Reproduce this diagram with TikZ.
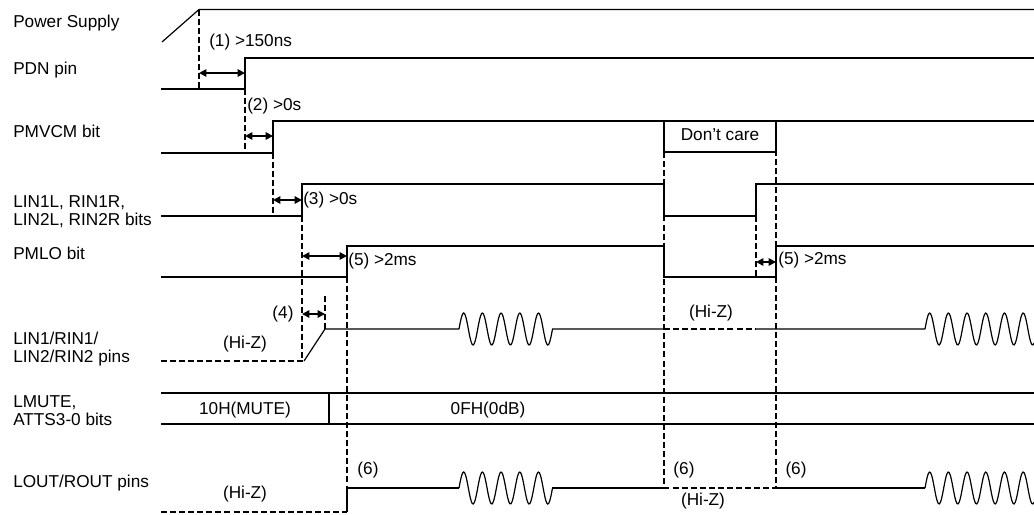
\documentclass[tikz,border=0pt]{standalone}
\usepackage{fontspec}
\setmainfont{Liberation Sans}
\usetikzlibrary{arrows.meta}
\tikzset{
  sig/.style={line width=0.9pt},
  hiz/.style={line width=1.1pt,dash pattern=on 4.5pt off 2.3pt},
  gapar/.style={line width=1.3pt,{Triangle[length=5.5pt,width=5.5pt]}-{Triangle[length=5.5pt,width=5.5pt]}},
  lbl/.style={anchor=base west,inner sep=0pt,align=left},
  ann/.style={anchor=west,inner sep=0pt},
}

\begin{document}
\begin{tikzpicture}[x=0.75pt,y=-0.75pt,font=\fontsize{12.9}{13.5}\selectfont]
  \useasboundingbox (0,0) rectangle (1034,514);
  \node[lbl] (ps) at (13,27) {Power Supply};
  \node[lbl] (pdn) at (13,74) {PDN pin};
  \node[lbl] (pmvcm) at (13,137) {PMVCM bit};
  \node[lbl] (linbits) at (13,225) {LIN1L, RIN1R,\\LIN2L, RIN2R bits};
  \node[lbl] (pmlo) at (13,259) {PMLO bit};
  \node[lbl] (linpins) at (13,362) {LIN1/RIN1/\\LIN2/RIN2 pins};
  \node[lbl] (lmute) at (13,425) {LMUTE,\\ATTS3-0 bits};
  \node[lbl] (lout) at (13,487) {LOUT/ROUT pins};

  \draw[sig] (162,42) -- (199,9.5) -- (1034,9.5);
  \draw[sig] (161,89) -| (245,58) -- (1034,58);
  \draw[sig] (161,153) -| (273,121) -- (1034,121);
  \draw[sig] (664,121) rectangle (776,152);
  \draw[sig] (161,216) -| (302,184) -| (664,216) -| (756,184) -- (1034,184);
  \draw[sig] (161,277) -| (347,246) -| (664,277) -| (776,246) -- (1034,246);
  \draw[sig] (304,361) -- (325,329) -- (459,329) (552,329) -- (664,329) (756,329) -- (925,329);
  \draw[sig] (161,393) -- (1034,393) (161,424) -- (1034,424) (329,393) -- (329,424);
  \draw[sig] (347,512) -- (347,488) -- (459,488) (552,488) -- (664,488) (776,488) -- (925,488);
  \foreach \x/\y/\n in {459/329/93.5,459/488/93.5,925/329/109,925/488/109}
    \draw[sig] plot[domain=0:\n,samples=100,variable=\t,smooth] ({\x+\t},{\y-16*sin(\t*19.25)});

  \foreach \x/\a/\b in {199/9.5/89,245/89/150,273/153/213,302/216/361,325/296/329,347/277/488,756/216/277}
    \draw[hiz] (\x,\a) -- (\x,\b);
  \draw[hiz] (664,152) -- (664,488) -- (776,488) -- (776,152);
  \draw[hiz] (161,361) -- (304,361);
  \draw[hiz] (664,329) -- (756,329);
  \draw[hiz] (161,512) -- (347,512);

  \draw[gapar] (199,73) -- (245,73);
  \draw[gapar] (245,136) -- (273,136);
  \draw[gapar] (273,200) -- (302,200);
  \draw[gapar] (302,256) -- (347,256);
  \draw[gapar] (302,314) -- (325,314);
  \draw[gapar] (756,262) -- (776,262);

  \node[ann] (t1) at (209,42) {(1) >150ns};
  \node[ann] (t2) at (247,106) {(2) >0s};
  \node[ann] (t3) at (303,200) {(3) >0s};
  \node[ann] (t5) at (348,261) {(5) >2ms};
  \node[ann] (t5b) at (778,260) {(5) >2ms};
  \node (t4) at (283,314) {(4)};
  \node (dc) at (720,135) {Don't care};
  \node (mute) at (245,410) {10H(MUTE)};
  \node (odb) at (488,410) {0FH(0dB)};
  \node (hz1) at (245,344) {(Hi-Z)};
  \node (hz2) at (711,313) {(Hi-Z)};
  \node (hz3) at (245,494) {(Hi-Z)};
  \node (hz4) at (703,501) {(Hi-Z)};
  \node (o1) at (368,470) {(6)};
  \node (o2) at (684,470) {(6)};
  \node (o3) at (796,470) {(6)};
\end{tikzpicture}
\end{document}
